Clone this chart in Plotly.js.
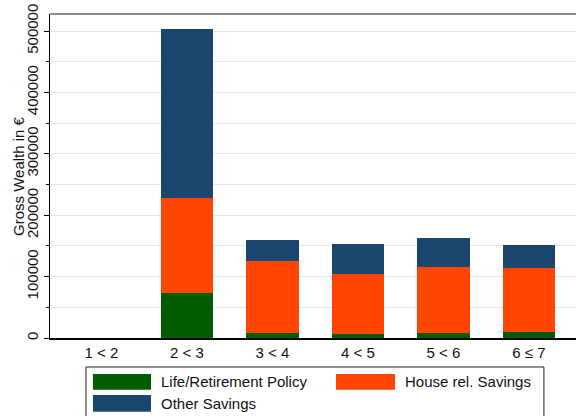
<!DOCTYPE html>
<html>
<head>
<meta charset="utf-8">
<script src="https://cdn.plot.ly/plotly-3.0.1.min.js"></script>
<style>html,body{margin:0;padding:0;background:#fff;}#chart{width:576px;height:416px;}</style>
</head>
<body>
<div id="chart"></div>
<script>
var categories = ["1 < 2", "2 < 3", "3 < 4", "4 < 5", "5 < 6", "6 \u2264 7"];
var lifePolicy = [0, 73800, 8100, 6500, 8100, 9800];
var houseSavings = [0, 154700, 116800, 98200, 108000, 104200];
var otherSavings = [0, 274500, 34700, 48400, 46300, 37000];
var seriesNames = ["Life/Retirement Policy", "House rel. Savings", "Other Savings"];
var seriesColors = ["#005c00", "#ff4500", "#1b466d"];
var yTicks = [0, 100000, 200000, 300000, 400000, 500000];
var yTitle = "Gross Wealth in \u20ac";

var seriesValues = [lifePolicy, houseSavings, otherSavings];
var traces = seriesValues.map(function (vals, i) {
  return {
    type: "bar",
    x: categories,
    y: vals,
    name: seriesNames[i],
    marker: { color: seriesColors[i], line: { width: 0 } },
    showlegend: false,
    hoverinfo: "none"
  };
});

var font = "Liberation Sans, Arial, Helvetica, sans-serif";

// custom legend (Stata-like wide keys)
var shapes = [
  { type: "line", xref: "paper", yref: "paper", x0: 0, x1: 1, y0: 1, y1: 1,
    line: { color: "#666666", width: 1.5 } },
  { type: "rect", xref: "paper", yref: "paper", x0: 0.0684, x1: 0.939, y0: -0.0895, y1: -0.26,
    line: { color: "#222222", width: 1 }, fillcolor: "rgba(0,0,0,0)" }
];
var keyPos = [
  { x0: 0.0817, x1: 0.192, y0: -0.111, y1: -0.160, tx: 0.2072, ty: -0.1355 },
  { x0: 0.5437, x1: 0.656, y0: -0.111, y1: -0.160, tx: 0.671, ty: -0.1355 },
  { x0: 0.0817, x1: 0.192, y0: -0.176, y1: -0.228, tx: 0.2072, ty: -0.203 }
];
var annotations = [];
keyPos.forEach(function (k, i) {
  shapes.push({ type: "rect", xref: "paper", yref: "paper", x0: k.x0, x1: k.x1, y0: k.y0, y1: k.y1,
    line: { width: 0 }, fillcolor: seriesColors[i] });
  annotations.push({ xref: "paper", yref: "paper", x: k.tx, y: k.ty, xanchor: "left", yanchor: "middle",
    text: seriesNames[i], showarrow: false, font: { family: font, size: 15, color: "#111" } });
});
annotations.push({ xref: "paper", yref: "paper", x: -0.0608, y: 0.5, xanchor: "center", yanchor: "middle",
  textangle: -90, text: yTitle, showarrow: false, font: { family: font, size: 15, color: "#111" } });

var layout = {
  width: 576, height: 416,
  margin: { l: 50, r: 0, t: 14, b: 78, pad: 0 },
  paper_bgcolor: "#ffffff", plot_bgcolor: "#ffffff",
  barmode: "stack",
  bargap: 0.39,
  showlegend: false,
  font: { family: font, size: 15, color: "#111" },
  xaxis: {
    range: [-0.602, 5.55],
    showline: true, linecolor: "#000", linewidth: 1.5,
    ticks: "", showgrid: false, zeroline: false,
    tickfont: { family: font, size: 15, color: "#111" }
  },
  yaxis: {
    range: [0, 527700],
    tickvals: yTicks,
    ticktext: yTicks.map(String),
    tickangle: -90,
    ticks: "outside", ticklen: 5, tickcolor: "#000",
    showline: true, linecolor: "#000", linewidth: 1,
    showgrid: true, gridcolor: "#e6e6e6", gridwidth: 1,
    zeroline: false,
    minor: { dtick: 50000, ticks: "outside", ticklen: 3, tickcolor: "#000", showgrid: true, gridcolor: "#e6e6e6", gridwidth: 1 },
    tickfont: { family: font, size: 15, color: "#111" }
  },
  shapes: shapes,
  annotations: annotations
};

Plotly.newPlot("chart", traces, layout, { staticPlot: true, displayModeBar: false });
</script>
</body>
</html>
